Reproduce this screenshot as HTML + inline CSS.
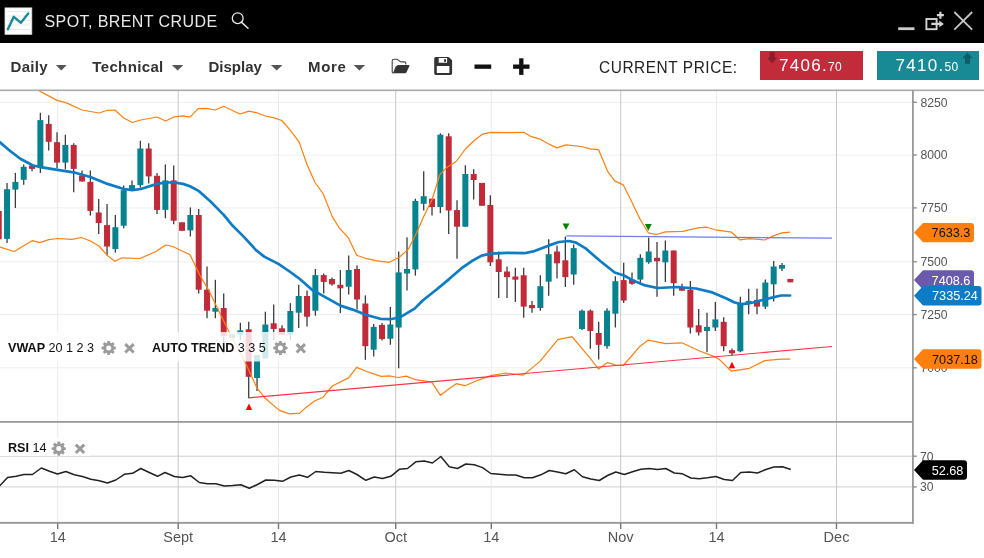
<!DOCTYPE html>
<html><head><meta charset="utf-8"><title>Spot, Brent Crude</title>
<style>
html,body{margin:0;padding:0;background:#fff;}
body{width:984px;height:558px;overflow:hidden;position:relative;font-family:"Liberation Sans",sans-serif;}
#title{position:absolute;left:0;top:0;width:984px;height:43px;background:#000;}
#title .name{position:absolute;left:44.5px;top:11.8px;color:#e8e8e8;font-size:16px;line-height:20px;letter-spacing:0.42px;white-space:nowrap;}
#tb{position:absolute;left:0;top:43px;width:984px;height:47px;background:#fff;}
.menu{position:absolute;top:14.8px;font-weight:bold;font-size:15px;line-height:18px;color:#333;white-space:nowrap;}
.caret{position:absolute;top:22px;width:0;height:0;border-left:5.5px solid transparent;border-right:5.5px solid transparent;border-top:5.6px solid #555;}
#cp{position:absolute;left:598.6px;top:15px;font-size:17px;line-height:20px;color:#222;letter-spacing:0.6px;white-space:nowrap;transform-origin:0 0;transform:scaleX(0.908);}
.pbox{position:absolute;top:8.3px;height:29px;color:#fff;white-space:nowrap;}
.pbox .t{position:absolute;top:4.9px;font-size:17px;line-height:20px;letter-spacing:1.3px;}
.pbox .t small{font-size:12px;letter-spacing:0.3px;}
svg{position:absolute;left:0;top:0;}
svg text{font-family:"Liberation Sans",sans-serif;}
.ax{font-size:12.2px;fill:#555;}
.xl{font-size:14.5px;fill:#555;}
.fl{font-size:12.7px;}
.lb{font-size:12.6px;fill:#111;}
</style></head><body>
<div id="title">
<svg width="984" height="43" viewBox="0 0 984 43">
<rect x="5" y="7.9" width="26.8" height="26.4" fill="#fff" stroke="#ddd" stroke-width="0.8"/>
<g stroke="#e3e3e3" stroke-width="0.8"><line x1="7" x2="30" y1="11.5" y2="11.5"/><line x1="7" x2="30" y1="16" y2="16"/><line x1="7" x2="30" y1="20.5" y2="20.5"/><line x1="7" x2="30" y1="25" y2="25"/><line x1="7" x2="30" y1="29.5" y2="29.5"/></g>
<polyline points="7.8,29.2 13.8,16.8 20.9,22.8 28.2,13.5" fill="none" stroke="#1b8a95" stroke-width="2.4" stroke-linecap="round" stroke-linejoin="round"/>
<circle cx="237.7" cy="18.2" r="5.4" fill="none" stroke="#e8e8e8" stroke-width="1.3"/>
<line x1="241.4" y1="22.1" x2="248" y2="28.3" stroke="#e8e8e8" stroke-width="1.5" stroke-linecap="round"/>
<rect x="898.2" y="27.3" width="16.3" height="2.8" fill="#ccc"/>
<rect x="926.4" y="19" width="10.2" height="10.2" fill="none" stroke="#d4d4d4" stroke-width="1.9"/>
<path d="M931.3,23.9 H940" stroke="#d4d4d4" stroke-width="2.3" fill="none"/>
<polygon points="939.3,20.6 943.9,23.9 939.3,27.2" fill="#d4d4d4"/>
<path d="M936.9,15.2 H943.9 M940.4,11.7 V18.7" stroke="#d4d4d4" stroke-width="2.2" fill="none"/>
<path d="M954.3,12 L972.2,29.7 M972.2,12 L954.3,29.7" stroke="#c4c4c4" stroke-width="1.8" fill="none"/>
</svg>
<div class="name">SPOT, BRENT CRUDE</div>
</div>
<div id="tb">
<div class="menu" style="left:10.5px;letter-spacing:0.3px">Daily</div>
<div class="menu" style="left:92.3px;letter-spacing:0.36px">Technical</div>
<div class="menu" style="left:208.5px">Display</div>
<div class="menu" style="left:308px;letter-spacing:0.65px">More</div>
<svg width="984" height="47" viewBox="0 43 984 47">
<g fill="#555"><polygon points="55.9,65 66.7,65 61.3,70.6"/><polygon points="171.9,65 183.3,65 177.6,70.6"/><polygon points="270.9,65 282.5,65 276.7,70.6"/><polygon points="353.6,65 365.2,65 359.4,70.6"/></g>
<!-- folder open -->
<path d="M392.2,72.2 V61 Q392.2,59.3 393.9,59.3 H396.8 Q397.6,59.3 398.2,59.9 L399.9,61.4 Q400.4,61.9 401.2,61.9 H404.4 Q405.8,61.9 405.8,63.3 V64.6" fill="none" stroke="#444" stroke-width="1.1" stroke-linejoin="round"/>
<path d="M392.2,72.2 Q392.4,73.2 393.6,73 L396.4,66" fill="none" stroke="#444" stroke-width="1.1"/>
<path d="M398.3,64.9 H408.6 Q409.9,64.9 409.4,66.1 L406.4,72.4 Q406,73.2 405,73.2 H394.6 Q393.6,73.2 394,72.3 L396.9,65.8 Q397.3,64.9 398.3,64.9 Z" fill="#333"/>
<!-- save -->
<path fill-rule="evenodd" fill="#333" d="M435.8,57 H448.2 Q448.8,57 449.3,57.5 L451.6,59.8 Q452.1,60.3 452.1,61 V73.3 Q452.1,74.9 450.5,74.9 H435.8 Q434.2,74.9 434.2,73.3 V58.6 Q434.2,57 435.8,57 Z M438.7,58.1 V62.7 H447.1 V58.1 Z M436.8,66.1 V73 H449.4 V66.1 Z"/>
<rect x="444.1" y="59.2" width="1.9" height="2.7" fill="#333"/>
<rect x="474.5" y="64.5" width="16.7" height="4.3" fill="#111"/>
<rect x="513.1" y="64.5" width="16.4" height="4.3" fill="#111"/>
<rect x="519.15" y="58.3" width="4.3" height="16.6" fill="#111"/>
</svg>
<div id="cp">CURRENT PRICE:</div>
<div class="pbox" style="left:759.5px;width:103px;background:#c22b3a;">
<svg width="103" height="29" viewBox="0 0 103 29"><path d="M9.7,1.2 h5 v5.5 h2.6 l-5.1,5.6 l-5.1,-5.6 h2.6 z" fill="#8e1b27"/></svg>
<div class="t" style="left:19.5px">7406.<small>70</small></div></div>
<div class="pbox" style="left:876.5px;width:102.5px;background:#178a96;">
<svg width="103" height="29" viewBox="0 0 103 29"><path d="M88,12.8 h5 v-5.5 h2.6 l-5.1,-5.9 l-5.1,5.9 h2.6 z" fill="#0d5e68"/></svg>
<div class="t" style="left:19px">7410.<small>50</small></div></div>
</div>
<svg width="984" height="558" viewBox="0 0 984 558" style="pointer-events:none">
<defs><clipPath id="cc"><rect x="0" y="91" width="913" height="330"/></clipPath></defs>
<line x1="0" x2="913" y1="102.3" y2="102.3" stroke="#eeeeee" stroke-width="1"/>
<line x1="0" x2="913" y1="155" y2="155" stroke="#eeeeee" stroke-width="1"/>
<line x1="0" x2="913" y1="207.9" y2="207.9" stroke="#eeeeee" stroke-width="1"/>
<line x1="0" x2="913" y1="261.8" y2="261.8" stroke="#eeeeee" stroke-width="1"/>
<line x1="0" x2="913" y1="314.6" y2="314.6" stroke="#eeeeee" stroke-width="1"/>
<line x1="0" x2="913" y1="367.8" y2="367.8" stroke="#eeeeee" stroke-width="1"/>
<line x1="0" x2="913" y1="456.2" y2="456.2" stroke="#cfcfcf" stroke-width="1"/>
<line x1="0" x2="913" y1="486.9" y2="486.9" stroke="#cfcfcf" stroke-width="1"/>
<line x1="57.7" x2="57.7" y1="91" y2="522" stroke="#ebebeb" stroke-width="1"/>
<line x1="178.2" x2="178.2" y1="91" y2="522" stroke="#c8c8c8" stroke-width="1"/>
<line x1="278.5" x2="278.5" y1="91" y2="522" stroke="#ebebeb" stroke-width="1"/>
<line x1="395.7" x2="395.7" y1="91" y2="522" stroke="#c8c8c8" stroke-width="1"/>
<line x1="491.3" x2="491.3" y1="91" y2="522" stroke="#ebebeb" stroke-width="1"/>
<line x1="620.7" x2="620.7" y1="91" y2="522" stroke="#c8c8c8" stroke-width="1"/>
<line x1="716.5" x2="716.5" y1="91" y2="522" stroke="#ebebeb" stroke-width="1"/>
<line x1="836.5" x2="836.5" y1="91" y2="522" stroke="#c8c8c8" stroke-width="1"/>
<line x1="-1.29" x2="-1.29" y1="205.0" y2="243.0" stroke="#3c3c3c" stroke-width="1.3"/>
<rect x="-4.29" y="211.0" width="6" height="28.3" fill="#c02a39"/>
<line x1="7.04" x2="7.04" y1="183.0" y2="243.0" stroke="#3c3c3c" stroke-width="1.3"/>
<rect x="4.04" y="189.2" width="6" height="49.7" fill="#07838f"/>
<line x1="15.37" x2="15.37" y1="172.9" y2="208.0" stroke="#3c3c3c" stroke-width="1.3"/>
<rect x="12.37" y="181.9" width="6" height="7.7" fill="#07838f"/>
<line x1="23.71" x2="23.71" y1="164.4" y2="184.7" stroke="#3c3c3c" stroke-width="1.3"/>
<rect x="20.71" y="166.8" width="6" height="13.0" fill="#07838f"/>
<line x1="32.04" x2="32.04" y1="165.6" y2="171.3" stroke="#3c3c3c" stroke-width="1.3"/>
<rect x="29.04" y="165.6" width="6" height="3.3" fill="#c02a39"/>
<line x1="40.37" x2="40.37" y1="112.8" y2="172.9" stroke="#3c3c3c" stroke-width="1.3"/>
<rect x="37.37" y="120.1" width="6" height="46.7" fill="#07838f"/>
<line x1="48.70" x2="48.70" y1="115.2" y2="150.6" stroke="#3c3c3c" stroke-width="1.3"/>
<rect x="45.70" y="123.9" width="6" height="17.9" fill="#c02a39"/>
<line x1="57.04" x2="57.04" y1="132.3" y2="168.3" stroke="#3c3c3c" stroke-width="1.3"/>
<rect x="54.04" y="142.2" width="6" height="20.4" fill="#c02a39"/>
<line x1="65.37" x2="65.37" y1="134.7" y2="169.3" stroke="#3c3c3c" stroke-width="1.3"/>
<rect x="62.37" y="144.9" width="6" height="17.7" fill="#07838f"/>
<line x1="73.70" x2="73.70" y1="143.3" y2="192.2" stroke="#3c3c3c" stroke-width="1.3"/>
<rect x="70.70" y="144.9" width="6" height="24.0" fill="#c02a39"/>
<line x1="82.04" x2="82.04" y1="170.5" y2="181.5" stroke="#3c3c3c" stroke-width="1.3"/>
<rect x="79.04" y="175.4" width="6" height="6.1" fill="#c02a39"/>
<line x1="90.37" x2="90.37" y1="170.5" y2="215.6" stroke="#3c3c3c" stroke-width="1.3"/>
<rect x="87.37" y="181.9" width="6" height="29.0" fill="#c02a39"/>
<line x1="98.70" x2="98.70" y1="198.9" y2="233.9" stroke="#3c3c3c" stroke-width="1.3"/>
<rect x="95.70" y="212.5" width="6" height="10.6" fill="#c02a39"/>
<line x1="107.04" x2="107.04" y1="204.0" y2="255.6" stroke="#3c3c3c" stroke-width="1.3"/>
<rect x="104.04" y="225.1" width="6" height="21.4" fill="#c02a39"/>
<line x1="115.37" x2="115.37" y1="215.0" y2="252.6" stroke="#3c3c3c" stroke-width="1.3"/>
<rect x="112.37" y="227.2" width="6" height="21.9" fill="#07838f"/>
<line x1="123.70" x2="123.70" y1="185.5" y2="228.2" stroke="#3c3c3c" stroke-width="1.3"/>
<rect x="120.70" y="190.2" width="6" height="35.5" fill="#07838f"/>
<line x1="132.03" x2="132.03" y1="180.4" y2="190.6" stroke="#3c3c3c" stroke-width="1.3"/>
<rect x="129.03" y="185.1" width="6" height="5.5" fill="#07838f"/>
<line x1="140.37" x2="140.37" y1="140.8" y2="187.6" stroke="#3c3c3c" stroke-width="1.3"/>
<rect x="137.37" y="148.5" width="6" height="36.6" fill="#07838f"/>
<line x1="148.70" x2="148.70" y1="143.3" y2="183.5" stroke="#3c3c3c" stroke-width="1.3"/>
<rect x="145.70" y="148.5" width="6" height="27.9" fill="#c02a39"/>
<line x1="157.03" x2="157.03" y1="172.9" y2="214.1" stroke="#3c3c3c" stroke-width="1.3"/>
<rect x="154.03" y="175.8" width="6" height="34.1" fill="#c02a39"/>
<line x1="165.37" x2="165.37" y1="164.4" y2="218.2" stroke="#3c3c3c" stroke-width="1.3"/>
<rect x="162.37" y="180.4" width="6" height="29.5" fill="#07838f"/>
<line x1="173.70" x2="173.70" y1="165.4" y2="224.3" stroke="#3c3c3c" stroke-width="1.3"/>
<rect x="170.70" y="180.4" width="6" height="40.3" fill="#c02a39"/>
<line x1="182.03" x2="182.03" y1="222.3" y2="230.8" stroke="#3c3c3c" stroke-width="1.3"/>
<rect x="179.03" y="222.3" width="6" height="8.5" fill="#c02a39"/>
<line x1="190.37" x2="190.37" y1="207.4" y2="236.5" stroke="#3c3c3c" stroke-width="1.3"/>
<rect x="187.37" y="215.0" width="6" height="15.4" fill="#07838f"/>
<line x1="198.70" x2="198.70" y1="208.9" y2="293.4" stroke="#3c3c3c" stroke-width="1.3"/>
<rect x="195.70" y="215.0" width="6" height="74.7" fill="#c02a39"/>
<line x1="207.03" x2="207.03" y1="266.4" y2="318.2" stroke="#3c3c3c" stroke-width="1.3"/>
<rect x="204.03" y="289.7" width="6" height="21.0" fill="#c02a39"/>
<line x1="215.37" x2="215.37" y1="279.8" y2="318.2" stroke="#3c3c3c" stroke-width="1.3"/>
<rect x="212.37" y="308.0" width="6" height="3.7" fill="#07838f"/>
<line x1="223.70" x2="223.70" y1="293.4" y2="353.5" stroke="#3c3c3c" stroke-width="1.3"/>
<rect x="220.70" y="308.0" width="6" height="28.0" fill="#c02a39"/>
<line x1="232.03" x2="232.03" y1="334.0" y2="338.0" stroke="#3c3c3c" stroke-width="1.3"/>
<rect x="229.03" y="334.5" width="6" height="3.5" fill="#07838f"/>
<line x1="240.36" x2="240.36" y1="322.8" y2="340.0" stroke="#3c3c3c" stroke-width="1.3"/>
<rect x="237.36" y="330.3" width="6" height="4.3" fill="#07838f"/>
<line x1="248.70" x2="248.70" y1="321.8" y2="398.3" stroke="#3c3c3c" stroke-width="1.3"/>
<rect x="245.70" y="329.3" width="6" height="47.5" fill="#c02a39"/>
<line x1="257.03" x2="257.03" y1="355.0" y2="391.1" stroke="#3c3c3c" stroke-width="1.3"/>
<rect x="254.03" y="355.0" width="6" height="23.0" fill="#07838f"/>
<line x1="265.36" x2="265.36" y1="311.7" y2="358.3" stroke="#3c3c3c" stroke-width="1.3"/>
<rect x="262.36" y="324.5" width="6" height="33.8" fill="#07838f"/>
<line x1="273.70" x2="273.70" y1="304.6" y2="340.0" stroke="#3c3c3c" stroke-width="1.3"/>
<rect x="270.70" y="323.3" width="6" height="5.7" fill="#c02a39"/>
<line x1="282.03" x2="282.03" y1="325.3" y2="334.6" stroke="#3c3c3c" stroke-width="1.3"/>
<rect x="279.03" y="328.3" width="6" height="6.3" fill="#c02a39"/>
<line x1="290.36" x2="290.36" y1="303.1" y2="340.2" stroke="#3c3c3c" stroke-width="1.3"/>
<rect x="287.36" y="311.0" width="6" height="23.6" fill="#07838f"/>
<line x1="298.70" x2="298.70" y1="284.8" y2="328.0" stroke="#3c3c3c" stroke-width="1.3"/>
<rect x="295.70" y="296.0" width="6" height="16.7" fill="#07838f"/>
<line x1="307.03" x2="307.03" y1="290.6" y2="326.5" stroke="#3c3c3c" stroke-width="1.3"/>
<rect x="304.03" y="296.0" width="6" height="20.7" fill="#c02a39"/>
<line x1="315.36" x2="315.36" y1="269.0" y2="315.7" stroke="#3c3c3c" stroke-width="1.3"/>
<rect x="312.36" y="275.1" width="6" height="35.6" fill="#07838f"/>
<line x1="323.69" x2="323.69" y1="273.5" y2="293.4" stroke="#3c3c3c" stroke-width="1.3"/>
<rect x="320.69" y="275.1" width="6" height="6.8" fill="#c02a39"/>
<line x1="332.03" x2="332.03" y1="277.6" y2="285.7" stroke="#3c3c3c" stroke-width="1.3"/>
<rect x="329.03" y="279.0" width="6" height="5.3" fill="#c02a39"/>
<line x1="340.36" x2="340.36" y1="270.0" y2="313.1" stroke="#3c3c3c" stroke-width="1.3"/>
<rect x="337.36" y="284.8" width="6" height="3.5" fill="#c02a39"/>
<line x1="348.69" x2="348.69" y1="255.6" y2="294.4" stroke="#3c3c3c" stroke-width="1.3"/>
<rect x="345.69" y="270.0" width="6" height="16.7" fill="#07838f"/>
<line x1="357.03" x2="357.03" y1="265.4" y2="309.6" stroke="#3c3c3c" stroke-width="1.3"/>
<rect x="354.03" y="269.0" width="6" height="30.5" fill="#c02a39"/>
<line x1="365.36" x2="365.36" y1="295.4" y2="359.8" stroke="#3c3c3c" stroke-width="1.3"/>
<rect x="362.36" y="303.5" width="6" height="42.7" fill="#c02a39"/>
<line x1="373.69" x2="373.69" y1="323.9" y2="356.4" stroke="#3c3c3c" stroke-width="1.3"/>
<rect x="370.69" y="326.9" width="6" height="22.8" fill="#07838f"/>
<line x1="382.03" x2="382.03" y1="323.0" y2="340.5" stroke="#3c3c3c" stroke-width="1.3"/>
<rect x="379.03" y="324.9" width="6" height="14.2" fill="#c02a39"/>
<line x1="390.36" x2="390.36" y1="307.0" y2="344.8" stroke="#3c3c3c" stroke-width="1.3"/>
<rect x="387.36" y="324.5" width="6" height="14.2" fill="#07838f"/>
<line x1="398.69" x2="398.69" y1="251.5" y2="368.2" stroke="#3c3c3c" stroke-width="1.3"/>
<rect x="395.69" y="272.4" width="6" height="55.1" fill="#07838f"/>
<line x1="407.02" x2="407.02" y1="237.3" y2="290.5" stroke="#3c3c3c" stroke-width="1.3"/>
<rect x="404.02" y="269.0" width="6" height="4.5" fill="#07838f"/>
<line x1="415.36" x2="415.36" y1="198.7" y2="275.6" stroke="#3c3c3c" stroke-width="1.3"/>
<rect x="412.36" y="200.9" width="6" height="68.5" fill="#07838f"/>
<line x1="423.69" x2="423.69" y1="171.3" y2="210.5" stroke="#3c3c3c" stroke-width="1.3"/>
<rect x="420.69" y="196.2" width="6" height="7.6" fill="#07838f"/>
<line x1="432.02" x2="432.02" y1="198.7" y2="215.6" stroke="#3c3c3c" stroke-width="1.3"/>
<rect x="429.02" y="198.7" width="6" height="8.3" fill="#c02a39"/>
<line x1="440.36" x2="440.36" y1="133.3" y2="213.1" stroke="#3c3c3c" stroke-width="1.3"/>
<rect x="437.36" y="134.7" width="6" height="72.3" fill="#07838f"/>
<line x1="448.69" x2="448.69" y1="133.3" y2="233.9" stroke="#3c3c3c" stroke-width="1.3"/>
<rect x="445.69" y="136.3" width="6" height="74.2" fill="#c02a39"/>
<line x1="457.02" x2="457.02" y1="200.3" y2="258.7" stroke="#3c3c3c" stroke-width="1.3"/>
<rect x="454.02" y="210.1" width="6" height="16.6" fill="#c02a39"/>
<line x1="465.36" x2="465.36" y1="165.2" y2="226.7" stroke="#3c3c3c" stroke-width="1.3"/>
<rect x="462.36" y="174.0" width="6" height="52.7" fill="#07838f"/>
<line x1="473.69" x2="473.69" y1="169.3" y2="199.5" stroke="#3c3c3c" stroke-width="1.3"/>
<rect x="470.69" y="174.0" width="6" height="6.0" fill="#c02a39"/>
<line x1="482.02" x2="482.02" y1="182.9" y2="205.8" stroke="#3c3c3c" stroke-width="1.3"/>
<rect x="479.02" y="182.9" width="6" height="22.9" fill="#c02a39"/>
<line x1="490.35" x2="490.35" y1="195.2" y2="266.0" stroke="#3c3c3c" stroke-width="1.3"/>
<rect x="487.35" y="205.0" width="6" height="57.3" fill="#c02a39"/>
<line x1="498.69" x2="498.69" y1="251.5" y2="298.0" stroke="#3c3c3c" stroke-width="1.3"/>
<rect x="495.69" y="259.3" width="6" height="12.7" fill="#c02a39"/>
<line x1="507.02" x2="507.02" y1="266.4" y2="298.0" stroke="#3c3c3c" stroke-width="1.3"/>
<rect x="504.02" y="271.5" width="6" height="5.6" fill="#c02a39"/>
<line x1="515.35" x2="515.35" y1="267.8" y2="301.9" stroke="#3c3c3c" stroke-width="1.3"/>
<rect x="512.35" y="276.5" width="6" height="3.2" fill="#c02a39"/>
<line x1="523.69" x2="523.69" y1="267.8" y2="317.8" stroke="#3c3c3c" stroke-width="1.3"/>
<rect x="520.69" y="275.3" width="6" height="31.3" fill="#c02a39"/>
<line x1="532.02" x2="532.02" y1="300.9" y2="312.7" stroke="#3c3c3c" stroke-width="1.3"/>
<rect x="529.02" y="305.0" width="6" height="3.2" fill="#c02a39"/>
<line x1="540.35" x2="540.35" y1="275.3" y2="310.7" stroke="#3c3c3c" stroke-width="1.3"/>
<rect x="537.35" y="286.2" width="6" height="21.8" fill="#07838f"/>
<line x1="548.68" x2="548.68" y1="239.3" y2="295.8" stroke="#3c3c3c" stroke-width="1.3"/>
<rect x="545.68" y="254.2" width="6" height="27.5" fill="#07838f"/>
<line x1="557.02" x2="557.02" y1="245.4" y2="278.5" stroke="#3c3c3c" stroke-width="1.3"/>
<rect x="554.02" y="251.5" width="6" height="11.8" fill="#c02a39"/>
<line x1="565.35" x2="565.35" y1="236.5" y2="287.0" stroke="#3c3c3c" stroke-width="1.3"/>
<rect x="562.35" y="260.3" width="6" height="16.8" fill="#c02a39"/>
<line x1="573.68" x2="573.68" y1="244.6" y2="284.7" stroke="#3c3c3c" stroke-width="1.3"/>
<rect x="570.68" y="248.1" width="6" height="26.4" fill="#07838f"/>
<line x1="582.02" x2="582.02" y1="309.6" y2="330.0" stroke="#3c3c3c" stroke-width="1.3"/>
<rect x="579.02" y="310.7" width="6" height="18.3" fill="#07838f"/>
<line x1="590.35" x2="590.35" y1="309.6" y2="348.7" stroke="#3c3c3c" stroke-width="1.3"/>
<rect x="587.35" y="310.7" width="6" height="20.3" fill="#c02a39"/>
<line x1="598.68" x2="598.68" y1="321.8" y2="359.4" stroke="#3c3c3c" stroke-width="1.3"/>
<rect x="595.68" y="333.0" width="6" height="11.8" fill="#c02a39"/>
<line x1="607.02" x2="607.02" y1="308.2" y2="348.7" stroke="#3c3c3c" stroke-width="1.3"/>
<rect x="604.02" y="310.7" width="6" height="35.5" fill="#07838f"/>
<line x1="615.35" x2="615.35" y1="276.3" y2="327.5" stroke="#3c3c3c" stroke-width="1.3"/>
<rect x="612.35" y="281.2" width="6" height="32.5" fill="#07838f"/>
<line x1="623.68" x2="623.68" y1="262.7" y2="302.9" stroke="#3c3c3c" stroke-width="1.3"/>
<rect x="620.68" y="280.1" width="6" height="20.4" fill="#c02a39"/>
<line x1="632.01" x2="632.01" y1="272.5" y2="284.7" stroke="#3c3c3c" stroke-width="1.3"/>
<rect x="629.01" y="279.6" width="6" height="4.2" fill="#c02a39"/>
<line x1="640.35" x2="640.35" y1="254.2" y2="282.6" stroke="#3c3c3c" stroke-width="1.3"/>
<rect x="637.35" y="257.8" width="6" height="21.8" fill="#07838f"/>
<line x1="648.68" x2="648.68" y1="237.5" y2="263.7" stroke="#3c3c3c" stroke-width="1.3"/>
<rect x="645.68" y="251.5" width="6" height="10.8" fill="#07838f"/>
<line x1="657.01" x2="657.01" y1="242.0" y2="296.8" stroke="#3c3c3c" stroke-width="1.3"/>
<rect x="654.01" y="257.8" width="6" height="3.5" fill="#c02a39"/>
<line x1="665.35" x2="665.35" y1="240.6" y2="282.0" stroke="#3c3c3c" stroke-width="1.3"/>
<rect x="662.35" y="250.5" width="6" height="11.8" fill="#07838f"/>
<line x1="673.68" x2="673.68" y1="250.5" y2="295.8" stroke="#3c3c3c" stroke-width="1.3"/>
<rect x="670.68" y="250.5" width="6" height="32.7" fill="#c02a39"/>
<line x1="682.01" x2="682.01" y1="283.7" y2="290.7" stroke="#3c3c3c" stroke-width="1.3"/>
<rect x="679.01" y="288.0" width="6" height="2.7" fill="#c02a39"/>
<line x1="690.35" x2="690.35" y1="281.1" y2="333.6" stroke="#3c3c3c" stroke-width="1.3"/>
<rect x="687.35" y="289.7" width="6" height="37.8" fill="#c02a39"/>
<line x1="698.68" x2="698.68" y1="309.0" y2="335.4" stroke="#3c3c3c" stroke-width="1.3"/>
<rect x="695.68" y="325.3" width="6" height="7.1" fill="#c02a39"/>
<line x1="707.01" x2="707.01" y1="312.7" y2="352.3" stroke="#3c3c3c" stroke-width="1.3"/>
<rect x="704.01" y="326.9" width="6" height="4.1" fill="#07838f"/>
<line x1="715.35" x2="715.35" y1="301.9" y2="331.0" stroke="#3c3c3c" stroke-width="1.3"/>
<rect x="712.35" y="319.4" width="6" height="8.1" fill="#07838f"/>
<line x1="723.68" x2="723.68" y1="317.2" y2="351.3" stroke="#3c3c3c" stroke-width="1.3"/>
<rect x="720.68" y="321.8" width="6" height="24.4" fill="#c02a39"/>
<line x1="732.01" x2="732.01" y1="348.4" y2="355.4" stroke="#3c3c3c" stroke-width="1.3"/>
<rect x="729.01" y="350.2" width="6" height="3.1" fill="#c02a39"/>
<line x1="740.34" x2="740.34" y1="296.8" y2="352.3" stroke="#3c3c3c" stroke-width="1.3"/>
<rect x="737.34" y="303.5" width="6" height="47.8" fill="#07838f"/>
<line x1="748.68" x2="748.68" y1="288.7" y2="314.3" stroke="#3c3c3c" stroke-width="1.3"/>
<rect x="745.68" y="300.9" width="6" height="2.6" fill="#07838f"/>
<line x1="757.01" x2="757.01" y1="288.7" y2="314.3" stroke="#3c3c3c" stroke-width="1.3"/>
<rect x="754.01" y="299.9" width="6" height="6.7" fill="#c02a39"/>
<line x1="765.34" x2="765.34" y1="279.6" y2="309.0" stroke="#3c3c3c" stroke-width="1.3"/>
<rect x="762.34" y="282.5" width="6" height="24.1" fill="#07838f"/>
<line x1="773.68" x2="773.68" y1="261.0" y2="301.6" stroke="#3c3c3c" stroke-width="1.3"/>
<rect x="770.68" y="266.5" width="6" height="17.8" fill="#07838f"/>
<line x1="782.01" x2="782.01" y1="263.0" y2="271.1" stroke="#3c3c3c" stroke-width="1.3"/>
<rect x="779.01" y="265.0" width="6" height="3.7" fill="#07838f"/>
<line x1="790.34" x2="790.34" y1="278.9" y2="282.3" stroke="#3c3c3c" stroke-width="1.3"/>
<rect x="787.34" y="278.9" width="6" height="3.4" fill="#c02a39"/>
<polyline points="30.0,86.0 37.6,90.0 57.5,100.6 66.0,102.6 82.0,110.0 99.0,113.0 107.5,110.3 114.8,110.0 123.8,118.0 132.3,122.5 140.8,120.0 157.0,117.0 165.6,121.0 174.2,116.8 183.0,115.8 190.0,117.2 198.1,108.7 206.3,108.3 215.4,110.0 223.5,106.3 239.8,114.0 249.0,111.1 257.0,112.8 265.2,116.0 273.3,117.6 281.9,120.5 290.6,130.7 299.3,142.4 306.9,164.2 315.0,182.5 323.0,193.5 332.3,216.6 339.4,228.2 348.1,237.3 356.7,255.2 366.8,258.7 377.0,260.9 389.1,262.3 399.3,257.2 408.5,249.1 416.6,232.8 423.7,216.6 432.2,199.3 440.0,174.3 447.0,167.2 456.2,161.5 465.4,149.0 473.9,140.8 482.6,134.1 490.8,132.3 507.0,132.7 523.9,132.3 531.4,136.7 539.5,138.8 547.7,143.5 556.8,147.9 566.0,144.9 581.2,146.5 590.3,148.9 598.5,149.6 607.6,171.3 614.7,180.9 623.3,184.9 631.0,200.3 640.1,219.2 648.3,232.8 656.4,234.5 665.5,231.8 682.8,231.4 698.0,227.8 706.6,227.2 715.3,229.8 731.6,232.2 739.7,239.8 749.5,238.6 764.7,240.0 773.9,235.6 782.0,232.9 790.1,232.1" clip-path="url(#cc)" fill="none" stroke="#ff7f0e" stroke-width="1.2" stroke-linejoin="round"/>
<polyline points="-2.0,246.5 0.0,247.0 14.2,251.5 32.5,240.6 39.6,242.6 48.8,239.6 57.5,238.5 72.0,239.3 81.3,237.5 90.4,241.0 99.0,246.0 107.5,255.6 114.8,261.3 122.0,257.8 140.0,258.5 155.5,251.7 165.7,245.0 172.8,246.5 190.0,254.8 200.0,275.5 209.3,291.4 228.6,331.0 244.9,361.7 257.0,388.0 265.2,398.3 279.4,410.4 289.6,413.9 299.8,413.1 305.9,407.4 315.0,400.7 323.1,397.2 332.3,386.0 348.5,377.9 356.7,367.4 366.8,371.5 381.0,376.4 389.1,375.9 398.3,377.5 406.4,376.1 415.6,379.7 431.8,382.1 440.4,395.3 449.1,388.8 456.2,383.7 465.0,385.7 475.5,381.3 490.8,375.6 506.0,373.0 523.3,375.1 540.0,361.4 557.8,339.7 572.1,336.7 579.1,345.2 590.3,358.4 598.5,369.0 607.6,362.5 615.7,365.1 623.3,365.5 640.1,346.2 648.3,340.1 665.5,343.6 681.8,342.8 699.1,350.7 716.3,357.4 720.0,360.1 731.4,371.2 749.5,368.3 764.7,360.6 781.0,359.1 790.1,359.1" fill="none" stroke="#ff7f0e" stroke-width="1.2" stroke-linejoin="round"/>
<line x1="249" y1="397.8" x2="832" y2="346.5" stroke="#ff3344" stroke-width="1.2"/>
<line x1="566.4" y1="235.9" x2="832" y2="238.2" stroke="#6e7df0" stroke-width="1.2"/>
<polyline points="-2.0,140.5 0.0,142.4 10.2,151.0 20.3,158.7 32.5,165.2 40.6,167.2 57.5,169.9 73.4,172.3 90.4,177.0 107.5,183.9 123.8,189.0 132.3,190.2 140.8,189.0 157.0,183.9 165.6,182.5 174.2,182.5 183.0,183.9 190.0,186.3 198.1,190.6 210.3,201.3 223.5,214.6 231.7,224.7 243.9,236.9 256.0,250.1 264.2,256.6 278.4,263.9 289.6,271.5 299.8,279.0 312.0,289.7 322.1,295.4 340.4,305.6 352.6,309.6 365.8,314.7 381.0,319.0 390.2,319.2 400.3,317.2 414.6,308.6 422.7,300.5 436.9,289.3 449.1,279.1 461.3,268.4 471.5,261.3 481.6,255.6 490.8,253.6 507.0,252.8 524.3,253.2 534.5,251.1 549.1,245.4 558.9,242.0 569.0,241.0 576.1,242.6 585.2,248.1 600.5,261.3 614.7,272.5 623.9,275.5 633.0,280.4 645.2,285.4 657.4,288.0 677.7,287.0 696.0,288.5 712.3,292.4 726.5,298.5 734.0,302.3 740.7,304.1 747.0,303.7 752.9,302.5 764.7,299.4 781.0,295.5 790.1,295.5" fill="none" stroke="#0d7cc4" stroke-width="2.7" stroke-linejoin="round" stroke-linecap="round"/>
<polygon points="245.8,410 252.2,410 249,403.5" fill="#ff0000"/>
<polygon points="728.8,368.2 735.2,368.2 732,361.8" fill="#ff0000"/>
<polygon points="562.6,223.6 569.4,223.6 566,230" fill="#008000"/>
<polygon points="644.9,224 651.6999999999999,224 648.3,230.8" fill="#008000"/>
<rect x="0" y="332" width="312" height="29.5" fill="#fff" fill-opacity="0.82"/>
<polyline points="-2.0,487.0 0.0,485.5 7.5,477.5 16.3,476.3 23.8,474.5 32.5,474.5 41.3,468.0 49.5,471.3 57.5,474.0 65.8,471.5 74.3,474.8 82.5,476.5 90.8,479.3 99.3,480.8 107.5,483.0 115.8,480.0 124.3,474.3 132.5,473.3 140.8,468.5 149.3,472.5 157.5,476.3 165.0,472.5 174.3,476.5 182.5,477.5 190.8,475.8 199.3,482.5 207.5,483.8 215.8,483.8 224.3,486.0 232.5,485.5 240.8,484.8 249.3,488.3 257.5,484.5 265.8,480.0 274.3,480.3 282.5,481.3 290.8,477.0 299.3,475.0 307.5,477.3 315.8,471.5 324.3,472.3 332.5,472.8 340.8,473.3 348.8,470.5 357.0,474.5 365.8,480.3 374.3,477.0 382.5,478.5 390.8,476.3 399.3,469.3 407.5,468.5 415.8,461.8 424.3,461.0 432.5,463.0 440.8,456.5 449.3,466.8 457.5,468.5 465.8,464.0 474.3,464.8 482.5,467.6 490.8,473.5 499.3,474.3 507.5,475.0 515.8,475.0 524.3,477.8 532.5,477.8 540.8,474.8 549.3,470.5 557.5,472.0 565.8,473.8 574.3,469.8 582.5,476.8 590.8,479.0 599.3,480.5 607.5,475.5 615.8,472.0 624.3,474.5 632.5,471.8 640.8,469.3 649.3,468.5 657.5,469.5 665.8,468.5 674.3,473.0 682.5,473.8 690.8,478.0 699.3,478.8 707.5,477.8 715.8,476.5 724.3,479.5 732.5,480.5 740.8,472.5 749.3,472.0 757.5,473.0 765.8,469.5 773.8,467.0 782.5,466.8 790.8,469.5" fill="none" stroke="#222" stroke-width="1.5" stroke-linejoin="round"/>
<rect x="0" y="437" width="90" height="19" fill="#fff" fill-opacity="0.9"/>
<rect x="0" y="89.5" width="984" height="1.6" fill="#a9a9a9"/>
<rect x="0" y="421" width="913" height="1.8" fill="#999"/>
<rect x="0" y="521.9" width="913.8" height="1.9" fill="#999"/>
<rect x="912" y="90" width="1.8" height="433.8" fill="#999"/>
<line x1="913" x2="916.8" y1="102.3" y2="102.3" stroke="#888" stroke-width="1.3"/>
<line x1="913" x2="916.8" y1="155" y2="155" stroke="#888" stroke-width="1.3"/>
<line x1="913" x2="916.8" y1="207.9" y2="207.9" stroke="#888" stroke-width="1.3"/>
<line x1="913" x2="916.8" y1="261.8" y2="261.8" stroke="#888" stroke-width="1.3"/>
<line x1="913" x2="916.8" y1="314.6" y2="314.6" stroke="#888" stroke-width="1.3"/>
<line x1="913" x2="916.8" y1="367.8" y2="367.8" stroke="#888" stroke-width="1.3"/>
<line x1="913" x2="916.8" y1="456.2" y2="456.2" stroke="#888" stroke-width="1.3"/>
<line x1="913" x2="916.8" y1="486.9" y2="486.9" stroke="#888" stroke-width="1.3"/>
<line x1="57.7" x2="57.7" y1="523" y2="529" stroke="#777" stroke-width="1.4"/>
<line x1="178.2" x2="178.2" y1="523" y2="529" stroke="#777" stroke-width="1.4"/>
<line x1="278.5" x2="278.5" y1="523" y2="529" stroke="#777" stroke-width="1.4"/>
<line x1="395.7" x2="395.7" y1="523" y2="529" stroke="#777" stroke-width="1.4"/>
<line x1="491.3" x2="491.3" y1="523" y2="529" stroke="#777" stroke-width="1.4"/>
<line x1="620.7" x2="620.7" y1="523" y2="529" stroke="#777" stroke-width="1.4"/>
<line x1="716.5" x2="716.5" y1="523" y2="529" stroke="#777" stroke-width="1.4"/>
<line x1="836.5" x2="836.5" y1="523" y2="529" stroke="#777" stroke-width="1.4"/>
<text x="920.5" y="106.7" class="ax">8250</text>
<text x="920.5" y="159.4" class="ax">8000</text>
<text x="920.5" y="212.3" class="ax">7750</text>
<text x="920.5" y="266.2" class="ax">7500</text>
<text x="920.5" y="319.0" class="ax">7250</text>
<text x="920.5" y="372.2" class="ax">7000</text>
<text x="920" y="460.6" class="ax">70</text>
<text x="920" y="491.3" class="ax">30</text>
<text x="57.7" y="542.3" class="xl" text-anchor="middle">14</text>
<text x="178.2" y="542.3" class="xl" text-anchor="middle">Sept</text>
<text x="278.5" y="542.3" class="xl" text-anchor="middle">14</text>
<text x="395.7" y="542.3" class="xl" text-anchor="middle">Oct</text>
<text x="491.3" y="542.3" class="xl" text-anchor="middle">14</text>
<text x="620.7" y="542.3" class="xl" text-anchor="middle">Nov</text>
<text x="716.5" y="542.3" class="xl" text-anchor="middle">14</text>
<text x="836.5" y="542.3" class="xl" text-anchor="middle">Dec</text>
<path d="M914,359 L923,349.3 H978.5 Q981.5,349.3 981.5,352.3 V365.7 Q981.5,368.7 978.5,368.7 H923 Z" fill="#ff7f0e"/><text x="977.9" y="363.6" class="fl" fill="#111" text-anchor="end">7037.18</text>
<path d="M914,232.6 L923,222.9 H971 Q974,222.9 974,225.9 V239.29999999999998 Q974,242.29999999999998 971,242.29999999999998 H923 Z" fill="#ff7f0e"/><text x="970.4" y="237.2" class="fl" fill="#111" text-anchor="end">7633.3</text>
<path d="M914,280 L923,270.3 H971 Q974,270.3 974,273.3 V286.7 Q974,289.7 971,289.7 H923 Z" fill="#6a5aac"/><text x="970.4" y="284.6" class="fl" fill="#fff" text-anchor="end">7408.6</text>
<path d="M914,295.8 L923,286.1 H978.5 Q981.5,286.1 981.5,289.1 V302.5 Q981.5,305.5 978.5,305.5 H923 Z" fill="#0d7cc4"/><text x="977.9" y="300.40000000000003" class="fl" fill="#fff" text-anchor="end">7335.24</text>
<path d="M914,470 L923,460.3 H964 Q967,460.3 967,463.3 V476.7 Q967,479.7 964,479.7 H923 Z" fill="#000"/><text x="963.4" y="474.6" class="fl" fill="#fff" text-anchor="end">52.68</text>
<text x="8" y="351.8" class="lb"><tspan font-weight="bold">VWAP</tspan> 20 1 2 3</text>
<g fill="#9b9b9b"><circle cx="108.7" cy="348" r="5.4"/><rect x="107.25" y="340.90" width="2.9" height="4" rx="0.7" transform="rotate(0 108.7 348)"/><rect x="107.25" y="340.90" width="2.9" height="4" rx="0.7" transform="rotate(45 108.7 348)"/><rect x="107.25" y="340.90" width="2.9" height="4" rx="0.7" transform="rotate(90 108.7 348)"/><rect x="107.25" y="340.90" width="2.9" height="4" rx="0.7" transform="rotate(135 108.7 348)"/><rect x="107.25" y="340.90" width="2.9" height="4" rx="0.7" transform="rotate(180 108.7 348)"/><rect x="107.25" y="340.90" width="2.9" height="4" rx="0.7" transform="rotate(225 108.7 348)"/><rect x="107.25" y="340.90" width="2.9" height="4" rx="0.7" transform="rotate(270 108.7 348)"/><rect x="107.25" y="340.90" width="2.9" height="4" rx="0.7" transform="rotate(315 108.7 348)"/></g><circle cx="108.7" cy="348" r="2.5" fill="#fff"/>
<path d="M125.3,344.1 L133.7,352.5 M133.7,344.1 L125.3,352.5" stroke="#9b9b9b" stroke-width="3" fill="none"/>
<text x="152" y="351.8" class="lb"><tspan font-weight="bold">AUTO TREND</tspan> 3 3 5</text>
<g fill="#9b9b9b"><circle cx="280.4" cy="348" r="5.4"/><rect x="278.95" y="340.90" width="2.9" height="4" rx="0.7" transform="rotate(0 280.4 348)"/><rect x="278.95" y="340.90" width="2.9" height="4" rx="0.7" transform="rotate(45 280.4 348)"/><rect x="278.95" y="340.90" width="2.9" height="4" rx="0.7" transform="rotate(90 280.4 348)"/><rect x="278.95" y="340.90" width="2.9" height="4" rx="0.7" transform="rotate(135 280.4 348)"/><rect x="278.95" y="340.90" width="2.9" height="4" rx="0.7" transform="rotate(180 280.4 348)"/><rect x="278.95" y="340.90" width="2.9" height="4" rx="0.7" transform="rotate(225 280.4 348)"/><rect x="278.95" y="340.90" width="2.9" height="4" rx="0.7" transform="rotate(270 280.4 348)"/><rect x="278.95" y="340.90" width="2.9" height="4" rx="0.7" transform="rotate(315 280.4 348)"/></g><circle cx="280.4" cy="348" r="2.5" fill="#fff"/>
<path d="M296.6,344.1 L305.0,352.5 M305.0,344.1 L296.6,352.5" stroke="#9b9b9b" stroke-width="3" fill="none"/>
<text x="8" y="452.2" class="lb"><tspan font-weight="bold">RSI</tspan> 14</text>
<g fill="#9b9b9b"><circle cx="58.8" cy="448.6" r="5.4"/><rect x="57.35" y="441.50" width="2.9" height="4" rx="0.7" transform="rotate(0 58.8 448.6)"/><rect x="57.35" y="441.50" width="2.9" height="4" rx="0.7" transform="rotate(45 58.8 448.6)"/><rect x="57.35" y="441.50" width="2.9" height="4" rx="0.7" transform="rotate(90 58.8 448.6)"/><rect x="57.35" y="441.50" width="2.9" height="4" rx="0.7" transform="rotate(135 58.8 448.6)"/><rect x="57.35" y="441.50" width="2.9" height="4" rx="0.7" transform="rotate(180 58.8 448.6)"/><rect x="57.35" y="441.50" width="2.9" height="4" rx="0.7" transform="rotate(225 58.8 448.6)"/><rect x="57.35" y="441.50" width="2.9" height="4" rx="0.7" transform="rotate(270 58.8 448.6)"/><rect x="57.35" y="441.50" width="2.9" height="4" rx="0.7" transform="rotate(315 58.8 448.6)"/></g><circle cx="58.8" cy="448.6" r="2.5" fill="#fff"/>
<path d="M75.8,444.6 L84.2,453.0 M84.2,444.6 L75.8,453.0" stroke="#9b9b9b" stroke-width="3" fill="none"/>
</svg>
</body></html>
